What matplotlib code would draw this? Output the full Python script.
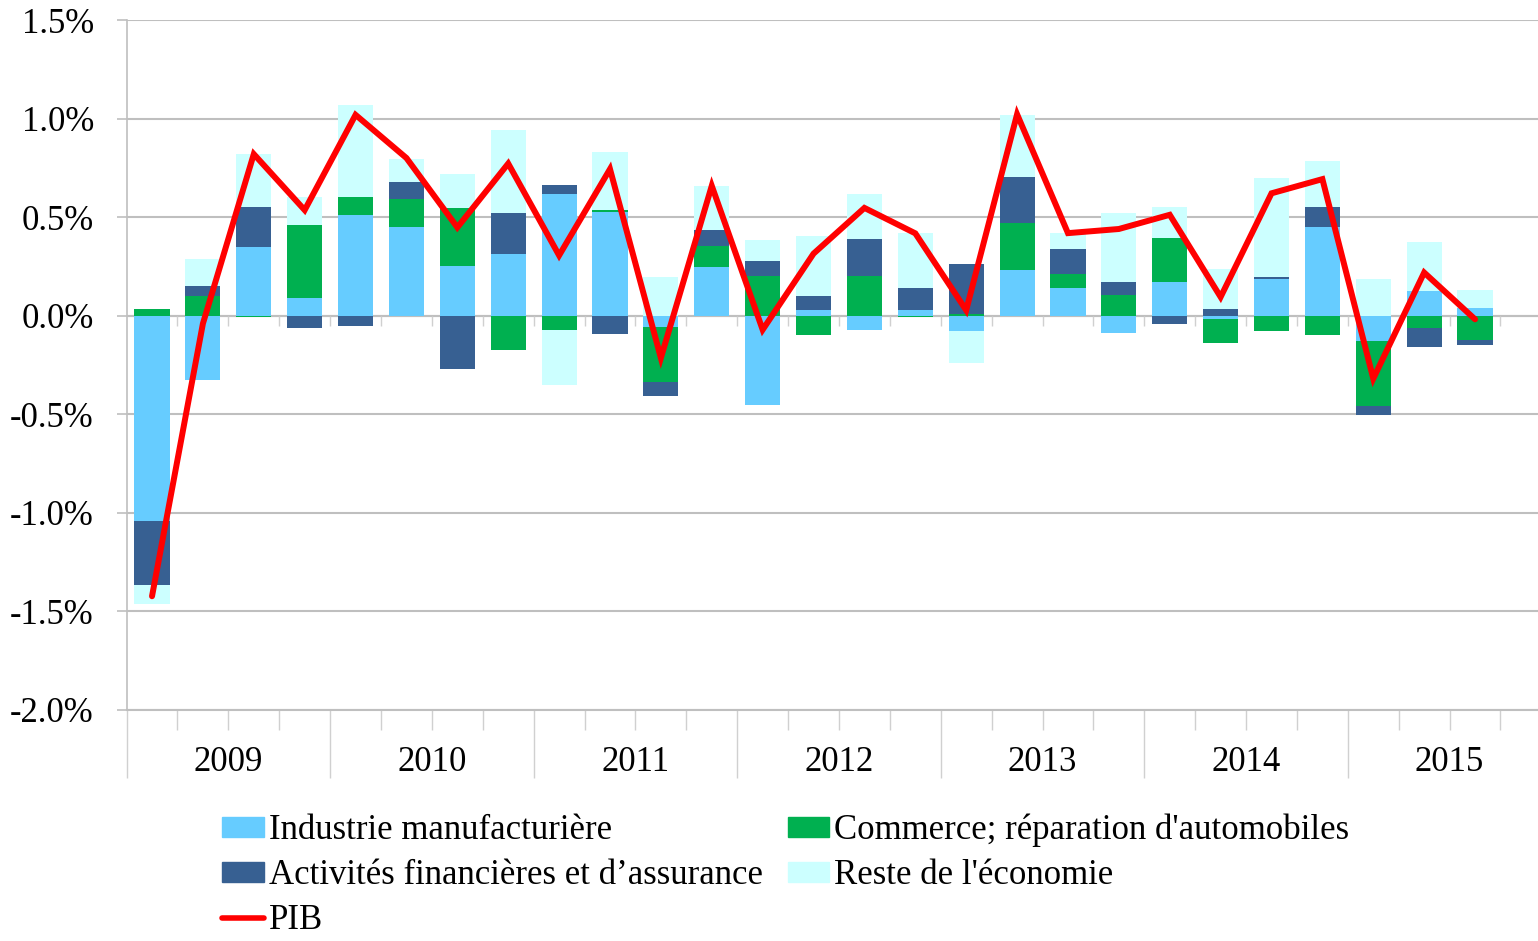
import numpy as np
import matplotlib.pyplot as plt
from matplotlib.patches import Patch
from matplotlib.lines import Line2D
from matplotlib.transforms import blended_transform_factory

plt.rcParams['font.family'] = ['Liberation Serif', 'DejaVu Serif']

# contributions trimestrielles a la croissance du PIB (points de %), 2009T1 - 2015T3
years = ['2009', '2010', '2011', '2012', '2013', '2014', '2015']
industrie = [-1.041, -0.328, 0.350, 0.091, 0.512, 0.451, 0.254, 0.313, 0.615, 0.524,
             -0.059, 0.248, -0.455, 0.030, -0.073, 0.027, -0.078, 0.233, 0.142, -0.088,
             0.172, -0.019, 0.186, 0.451, -0.130, 0.127, 0.041]
commerce = [0.034, 0.101, -0.005, 0.370, 0.088, 0.140, 0.292, -0.176, -0.071, 0.014,
            -0.277, 0.105, 0.201, -0.098, 0.201, -0.007, 0.008, 0.237, 0.071, 0.105,
            0.223, -0.120, -0.079, -0.098, -0.328, -0.063, -0.123]
finance = [-0.325, 0.049, 0.203, -0.064, -0.051, 0.088, -0.270, 0.210, 0.047, -0.091,
           -0.073, 0.083, 0.078, 0.071, 0.189, 0.113, 0.252, 0.232, 0.127, 0.068,
           -0.044, 0.034, 0.012, 0.101, -0.046, -0.095, -0.027]
reste = [-0.098, 0.139, 0.267, 0.139, 0.467, 0.118, 0.172, 0.421, -0.282, 0.292,
         0.196, 0.223, 0.105, 0.306, 0.225, 0.281, -0.160, 0.318, 0.078, 0.350,
         0.157, 0.201, 0.500, 0.235, 0.186, 0.247, 0.090]
pib = [-1.423, -0.040, 0.820, 0.536, 1.019, 0.800, 0.448, 0.772, 0.306, 0.744,
       -0.214, 0.659, -0.071, 0.315, 0.547, 0.418, 0.028, 1.022, 0.419, 0.440,
       0.512, 0.095, 0.621, 0.693, -0.319, 0.219, -0.018]

labels = ['Industrie manufacturière', "Commerce; réparation d'automobiles",
          'Activités financières et d\u2019assurance', "Reste de l'économie"]
colors = ['#66CCFF', '#00B050', '#376092', '#CCFFFF']
grid_c = '#BFBFBF'
fs = 25

fig = plt.figure(figsize=(15.38, 9.41), dpi=100)
ax = fig.add_axes([0.0823, 0.2455, 0.9264, 0.7332])

x = np.arange(len(pib))
pos = np.zeros(len(x))
neg = np.zeros(len(x))
for vals, c in zip([industrie, commerce, finance, reste], colors):
    v = np.array(vals)
    bottom = np.where(v >= 0, pos, neg)
    ax.bar(x, v, 0.69, bottom=bottom, color=c, zorder=2)
    pos += np.where(v >= 0, v, 0)
    neg += np.where(v < 0, v, 0)

ax.plot(x, pib, color='#FF0000', lw=4.3, zorder=4,
        solid_joinstyle='miter', solid_capstyle='round')

ax.set_xlim(-0.5, 4 * len(years) - 0.5)
ax.set_ylim(-2.0, 1.5)
yt = np.arange(-2.0, 1.51, 0.5)
ax.set_yticks(yt)
ax.set_yticklabels(['%.1f%%' % v for v in yt], fontsize=fs)
ax.yaxis.grid(True, color=grid_c, lw=1.5, zorder=0)
ax.set_axisbelow(True)
ax.tick_params(axis='y', length=7.5, width=1.2, color=grid_c, pad=16)

# axe des categories : separateurs d'annees et traits de trimestre
bounds = np.arange(-0.5, 4 * len(years) - 0.5, 1)
ax.set_xticks(bounds[::4])
ax.set_xticklabels([])
ax.set_xticks(bounds, minor=True)
ax.tick_params(axis='x', which='major', length=49, width=1, color='#D0D0D0')
ax.tick_params(axis='x', which='minor', length=14.5, width=1, color='#D0D0D0')
trans = blended_transform_factory(ax.transData, ax.transAxes)
for i, yr in enumerate(years):
    ax.text(4 * i + 1.5, -0.076, yr, transform=trans, ha='center', va='center', fontsize=fs)

# petits traits sous la ligne du zero
ax.axhline(0, color=grid_c, lw=1.5, zorder=1)
ax.vlines(bounds[1:], -0.05, 0, color='#D0D0D0', lw=1, zorder=1)

for s in ['top', 'right']:
    ax.spines[s].set_visible(False)
ax.spines['left'].set_color(grid_c)
ax.spines['bottom'].set_color(grid_c)
ax.spines['left'].set_linewidth(1.2)
ax.spines['bottom'].set_linewidth(1.5)

handles = [Patch(color=colors[0]), Patch(color=colors[2]),
           Line2D([], [], color='#FF0000', lw=4, solid_capstyle='round'),
           Patch(color=colors[1]), Patch(color=colors[3])]
leg_labels = [labels[0], labels[2], 'PIB', labels[1], labels[3]]
fig.legend(handles, leg_labels, ncol=2, loc='upper left', bbox_to_anchor=(0.1445, 0.135),
           frameon=False, fontsize=fs, handlelength=1.2, handleheight=0.5,
           handletextpad=0.14, columnspacing=0.72, labelspacing=0.34, borderpad=0,
           borderaxespad=0)

fig.savefig('out.png', dpi=100)
